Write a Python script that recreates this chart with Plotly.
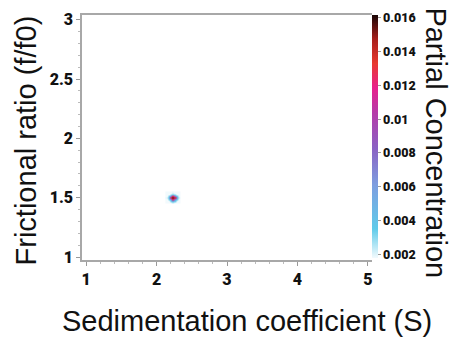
import plotly.graph_objects as go

# Grid of sedimentation coefficients (S) and frictional ratios around the single species
s_values = [2.14, 2.17, 2.20, 2.23, 2.26, 2.29, 2.32]
ff0_values = [1.455, 1.47, 1.485, 1.50, 1.515, 1.53, 1.545]
# Partial concentration (rows = f/f0, cols = S)
conc = [
    [0.0,    0.0,    0.0,    0.0020, 0.0,    0.0,    0.0],
    [0.0,    0.0,    0.0030, 0.0035, 0.0030, 0.0,    0.0],
    [0.0,    0.0030, 0.0040, 0.0130, 0.0040, 0.0030, 0.0],
    [0.0020, 0.0035, 0.0135, 0.0160, 0.0135, 0.0035, 0.0020],
    [0.0,    0.0030, 0.0040, 0.0130, 0.0040, 0.0030, 0.0],
    [0.0,    0.0,    0.0030, 0.0035, 0.0030, 0.0,    0.0],
    [0.0,    0.0,    0.0,    0.0020, 0.0,    0.0,    0.0],
]

x_ticks = [1, 2, 3, 4, 5]
x_tick_text = ["1", "2", "3", "4", "5"]
y_ticks = [1, 1.5, 2, 2.5, 3]
y_tick_text = ["1", "1.5", "2", "2.5", "3"]
cb_ticks = [0.002, 0.004, 0.006, 0.008, 0.010, 0.012, 0.014, 0.016]
cb_tick_text = ["0.002", "0.004", "0.006", "0.008", "0.01", "0.012", "0.014", "0.016"]

colorscale = [
    [0.00, "#f2fafd"],
    [0.12, "#5fcbea"],
    [0.30, "#7d9ee0"],
    [0.45, "#8a62c4"],
    [0.60, "#b63aa8"],
    [0.70, "#e8208c"],
    [0.80, "#e83a30"],
    [0.90, "#a8201c"],
    [1.00, "#1a0606"],
]

fig = go.Figure()
fig.add_trace(go.Heatmap(
    x=s_values, y=ff0_values, z=conc,
    zmin=0.0018, zmax=0.0162,
    colorscale=colorscale, zsmooth="best",
    colorbar=dict(
        x=1.0, xanchor="left", xpad=0, thickness=6,
        lenmode="pixels", len=243, y=0.506, yanchor="middle", ypad=0,
        outlinewidth=0,
        tickvals=cb_ticks, ticktext=cb_tick_text,
        ticks="outside", ticklen=3, tickcolor="#999",
        tickfont=dict(family="Roboto", size=12.5, color="#111", weight=900),
    ),
))

axis_font = dict(family="Roboto", size=16, color="#111", weight=900)
fig.update_xaxes(
    range=[0.94, 5.06], tickvals=x_ticks, ticktext=x_tick_text,
    showline=True, linecolor="#a8a8a8", linewidth=1.5, mirror=True,
    ticks="outside", ticklen=4, tickcolor="#999",
    minor=dict(ticks="outside", ticklen=2, dtick=0.2, tickcolor="#bbb"),
    showgrid=False, zeroline=False, tickfont=axis_font,
)
fig.update_yaxes(
    range=[0.975, 3.04], tickvals=y_ticks, ticktext=y_tick_text,
    showline=True, linecolor="#a8a8a8", linewidth=1.5,
    ticks="outside", ticklen=4, tickcolor="#999",
    minor=dict(ticks="outside", ticklen=2, dtick=0.1, tickcolor="#bbb"),
    showgrid=False, zeroline=False, tickfont=axis_font,
)

title_font = dict(family="Liberation Sans", size=29, color="#111")
fig.update_layout(
    width=452, height=343,
    margin=dict(l=82, r=80, t=10, b=83),
    paper_bgcolor="white", plot_bgcolor="white",
    annotations=[
        dict(text="Sedimentation coefficient (S)", xref="paper", yref="paper",
             x=(247 - 82) / 290, y=(260 - 322) / 250, xanchor="center", yanchor="middle",
             showarrow=False, font=title_font),
        dict(text="Frictional ratio (f/f0)", xref="paper", yref="paper",
             x=(26 - 82) / 290, y=(260 - 138) / 250, xanchor="center", yanchor="middle",
             textangle=-90, showarrow=False, font=title_font),
        dict(text="Partial Concentration", xref="paper", yref="paper",
             x=(436 - 82) / 290, y=(260 - 140) / 250, xanchor="center", yanchor="middle",
             textangle=90, showarrow=False, font=title_font),
    ],
)

fig.write_html("out.html")
